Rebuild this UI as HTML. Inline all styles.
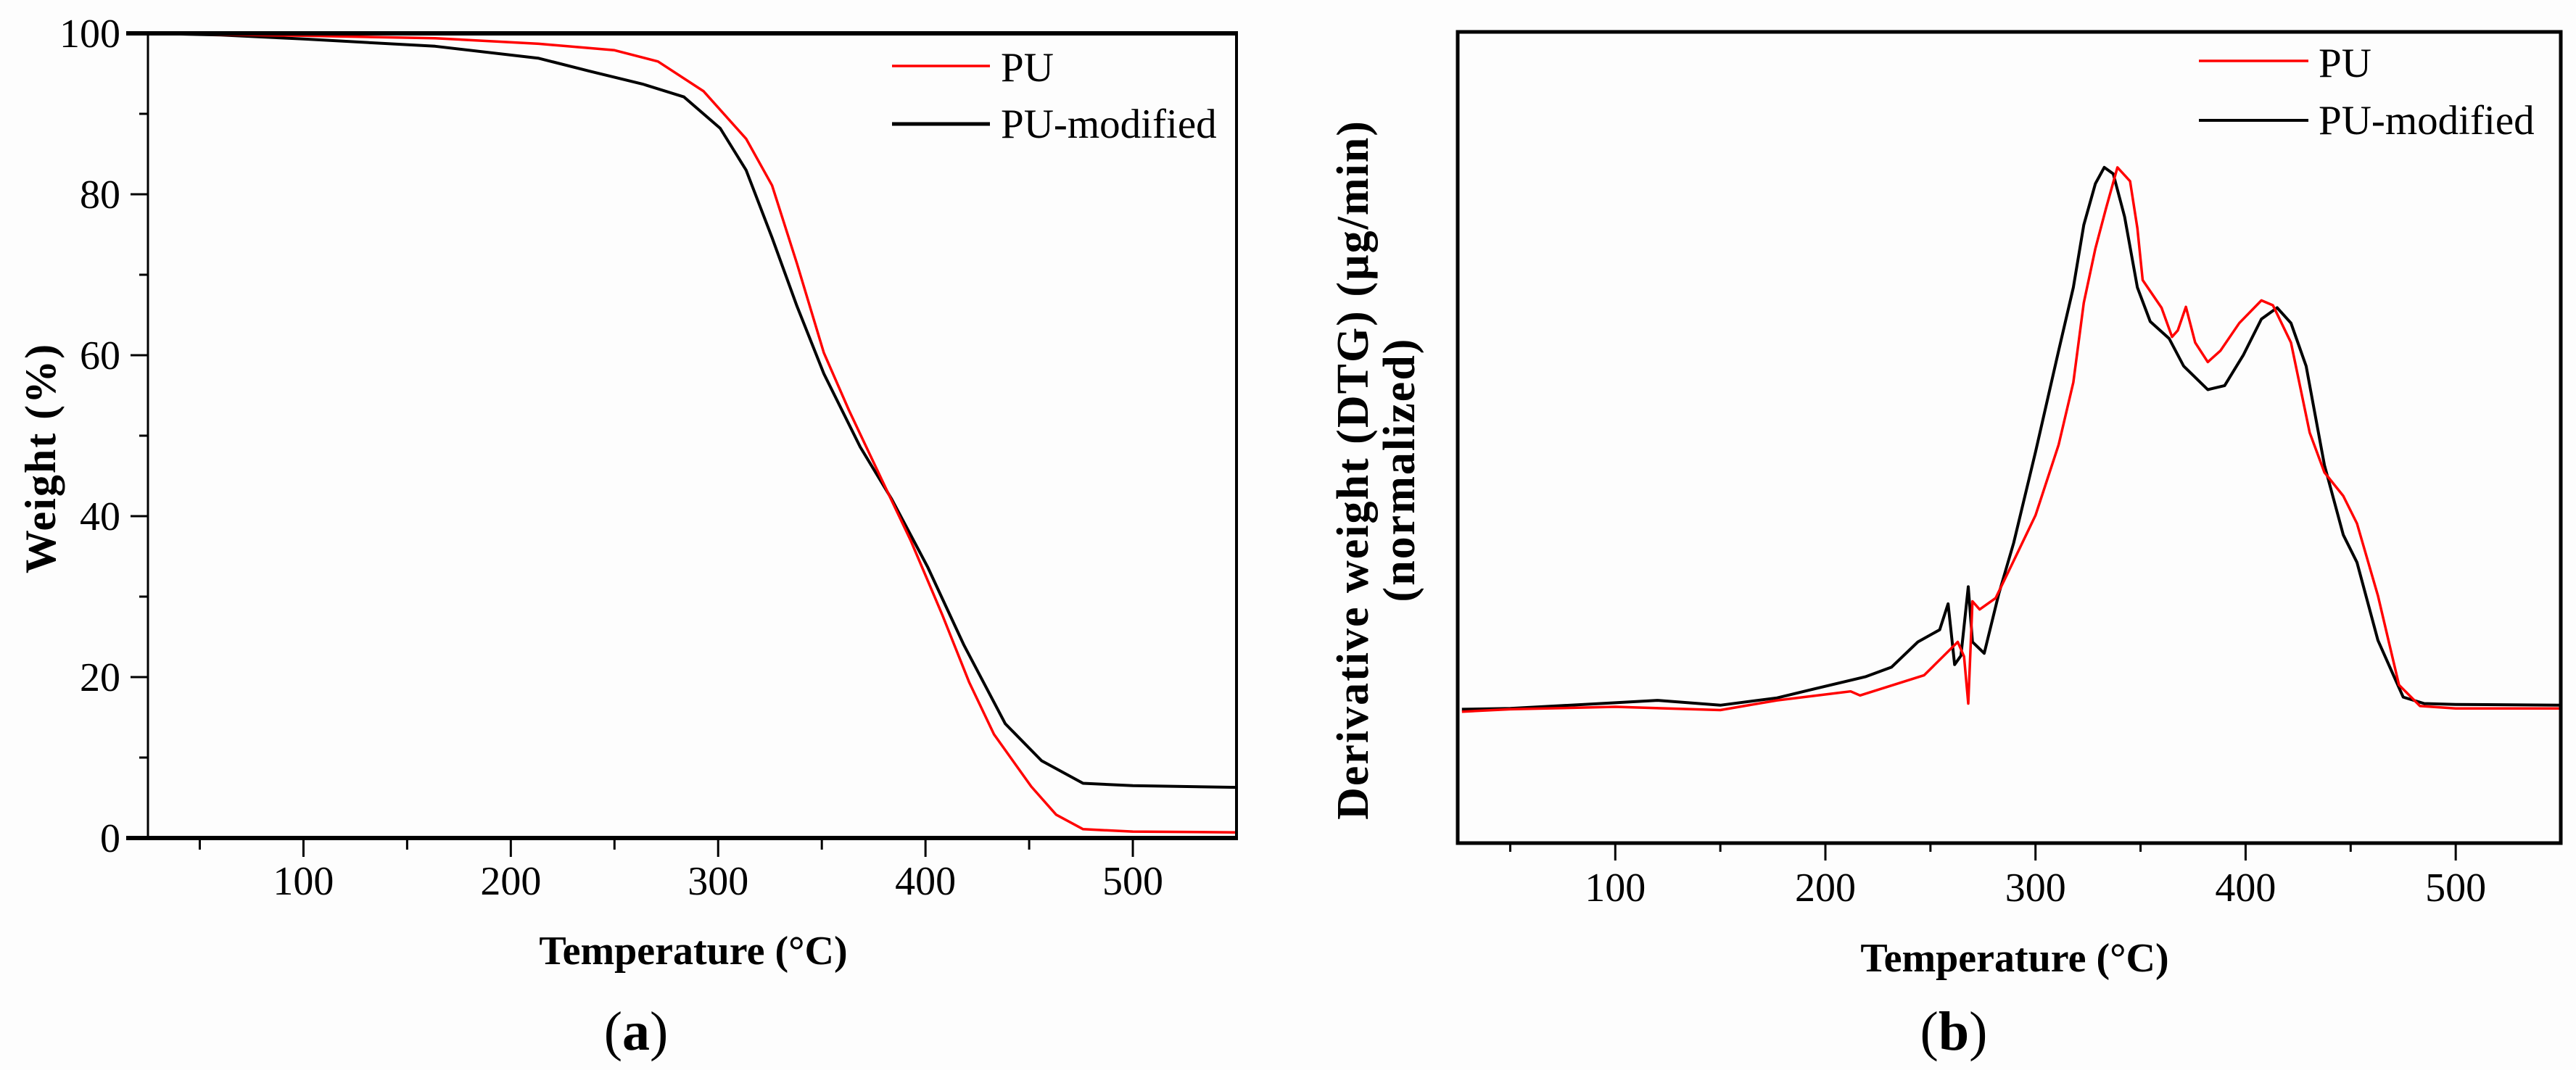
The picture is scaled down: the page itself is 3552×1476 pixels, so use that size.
<!DOCTYPE html>
<html><head><meta charset="utf-8"><style>
html,body{margin:0;padding:0;background:#fdfdfd;}
svg{display:block;font-family:"Liberation Serif",serif;}
</style></head><body>
<svg id="fig" width="3552" height="1476" viewBox="0 0 3552 1476" xmlns="http://www.w3.org/2000/svg">
<rect x="0" y="0" width="3552" height="1476" fill="#fdfdfd"/>
<g id="pa"></g>
<g id="pb"></g>
</svg>
<script>
// ---- Panel (a) TGA data ----
const tgaTempPU = [25,100,163.5,213.5,250,271,293,313.5,326,338,351,363,381,393,408,421,433,451,463,476,500,550];
const tgaWeightPU = [100,99.7,99.4,98.7,97.9,96.5,92.8,86.9,81.1,71.4,60.3,53.2,43.4,36.9,27.8,19.4,12.9,6.4,2.9,1.1,0.8,0.7];
const tgaTempMod = [25,60,100,163.5,213.5,238,263.5,283.5,301,313.5,326,338,351,368.5,383.5,401,418.5,438.5,456,476,500,550];
const tgaWeightMod = [100,99.8,99.3,98.4,96.9,95.3,93.7,92.1,88.2,83.0,74.6,66.1,57.7,48.6,42.2,33.7,24.0,14.2,9.6,6.8,6.5,6.3];
const aXTicks = [100,200,300,400,500];
const aXMinor = [50,150,250,350,450];
const aYTicks = [0,20,40,60,80,100];
const aYMinor = [10,30,50,70,90];
// ---- Panel (b) DTG data (normalized, arbitrary units) ----
const dtgTempPU = [27,50,100,150,177,212,216.5,247,263,266,268,270,273.4,281,290,300,311,318,323,328.5,333.5,339,345,348.5,351,360,365,367.7,371.6,376,382,388,397,407.5,413,421.6,430.5,437.5,446.5,453,463,473,483,500,550];
const dtgValPU = [16.2,16.5,16.8,16.4,17.6,18.7,18.2,20.7,24.8,23.0,17.2,29.8,28.8,30.2,35.0,40.4,49.1,56.8,66.6,73.3,78.2,83.3,81.6,75.8,69.4,66.0,62.4,63.2,66.1,61.7,59.3,60.7,64.1,66.9,66.3,61.7,50.6,45.7,42.8,39.4,30.5,19.5,16.9,16.6,16.6];
const dtgTempMod = [27,50,100,120,150,177,194.5,219,231.5,244,254.4,258.4,261.5,264.5,268,270,275.6,282.5,289.6,300,311,318,323,328.5,332.7,337,342.4,348.5,354.6,363.6,370.5,382,390,399,407.5,415,421.6,428.8,437.5,446.5,453,463,475,485,500,550];
const dtgValMod = [16.5,16.6,17.3,17.6,17.0,17.9,19.0,20.5,21.7,24.8,26.3,29.5,22.0,23.1,31.6,24.8,23.4,30.7,37.0,48.2,60.7,68.5,76.2,81.3,83.3,82.5,77.2,68.5,64.3,62.2,58.8,55.9,56.4,60.2,64.6,66.0,64.1,58.8,46.6,38.0,34.6,25.0,18.0,17.2,17.1,17.0];
const bXTicks = [100,200,300,400,500];
const bXMinor = [50,150,250,350,450];
const seriesNames = ["PU","PU-modified"];

const NS = "http://www.w3.org/2000/svg";
function mk(parent, tag, attrs, text){
  const e = document.createElementNS(NS, tag);
  for (const k in attrs) e.setAttribute(k, attrs[k]);
  if (text !== undefined) e.textContent = text;
  parent.appendChild(e);
  return e;
}
function scale(d0,d1,r0,r1){ return v => r0 + (v-d0)*(r1-r0)/(d1-d0); }
function pathFrom(xs, ys, sx, sy){
  return xs.map((t,i)=>(i?'L':'M')+sx(t).toFixed(1)+','+sy(ys[i]).toFixed(1)).join(' ');
}

// ===== Panel A =====
const pa = document.getElementById('pa');
const aL=204, aR=1705, aT=46, aB=1156;
const ax = scale(25,550,aL,aR), ay = scale(0,100,aB,aT);
let e;
e = mk(pa,'path',{d:pathFrom(tgaTempMod,tgaWeightMod,ax,ay),fill:'none',stroke:'#000','stroke-width':4,'stroke-linejoin':'round'});


e = mk(pa,'path',{d:pathFrom(tgaTempPU,tgaWeightPU,ax,ay),fill:'none',stroke:'#ff0000','stroke-width':3.5,'stroke-linejoin':'round'});


e = mk(pa,'line',{x1:aL-30,y1:aT,x2:aR+2,y2:aT,stroke:'#000','stroke-width':6});


e = mk(pa,'line',{x1:aL-30,y1:aB,x2:aR+2,y2:aB,stroke:'#000','stroke-width':6});


e = mk(pa,'line',{x1:aL,y1:aT,x2:aL,y2:aB,stroke:'#000','stroke-width':3});


e = mk(pa,'line',{x1:aR,y1:aT,x2:aR,y2:aB,stroke:'#000','stroke-width':4});


aXTicks.forEach(t=>{
  e = mk(pa,'line',{x1:ax(t),y1:aB,x2:ax(t),y2:aB+26,stroke:'#000','stroke-width':3});
  
  
  e = mk(pa,'text',{x:ax(t),y:aB+78,'font-size':56,'text-anchor':'middle'},String(t));
  
  
});
aXMinor.forEach(t=>{
  e = mk(pa,'line',{x1:ax(t),y1:aB,x2:ax(t),y2:aB+16,stroke:'#000','stroke-width':3});
  
  
});
aYTicks.forEach(v=>{
  e = mk(pa,'line',{x1:aL-24,y1:ay(v),x2:aL,y2:ay(v),stroke:'#000','stroke-width':3});
  
  
  e = mk(pa,'text',{x:aL-38,y:ay(v)+19,'font-size':56,'text-anchor':'end'},String(v));
  
  
});
aYMinor.forEach(v=>{
  e = mk(pa,'line',{x1:aL-12,y1:ay(v),x2:aL,y2:ay(v),stroke:'#000','stroke-width':3});
  
  
});
e = mk(pa,'text',{x:956,y:1330,'font-size':56,'font-weight':'bold','text-anchor':'middle'},'Temperature (°C)');


e = mk(pa,'text',{x:0,y:0,'font-size':60,'font-weight':'bold','text-anchor':'middle','letter-spacing':2,transform:'translate(76,632) rotate(-90)'},'Weight (%)');


e = mk(pa,'text',{x:877,y:1448,'font-size':76,'text-anchor':'middle'},'');


mk(e,'tspan',{},'(');mk(e,'tspan',{'font-weight':'bold'},'a');mk(e,'tspan',{},')');
const legA = mk(pa,'g',{});


[['#ff0000',91,112,3.5],['#000',171,190,5]].forEach((s,i)=>{
  e = mk(legA,'line',{x1:1230,y1:s[1],x2:1365,y2:s[1],stroke:s[0],'stroke-width':s[3]});
  
  
  e = mk(legA,'text',{x:1380,y:s[2],'font-size':57},seriesNames[i]);
  
  
});

// ===== Panel B =====
const pb = document.getElementById('pb');
const bL=2010, bR=3531, bT=44, bB=1163;
const bx = scale(25,550,bL,bR), by = scale(0,100,bB,bT);
e = mk(pb,'path',{d:pathFrom(dtgTempMod,dtgValMod,bx,by),fill:'none',stroke:'#000','stroke-width':4,'stroke-linejoin':'round'});


e = mk(pb,'path',{d:pathFrom(dtgTempPU,dtgValPU,bx,by),fill:'none',stroke:'#ff0000','stroke-width':3.5,'stroke-linejoin':'round'});


e = mk(pb,'rect',{x:bL,y:bT,width:bR-bL,height:bB-bT,fill:'none',stroke:'#000','stroke-width':5});


bXTicks.forEach(t=>{
  e = mk(pb,'line',{x1:bx(t),y1:bB,x2:bx(t),y2:bB+24,stroke:'#000','stroke-width':3});
  
  
  e = mk(pb,'text',{x:bx(t),y:bB+80,'font-size':56,'text-anchor':'middle'},String(t));
  
  
});
bXMinor.forEach(t=>{
  e = mk(pb,'line',{x1:bx(t),y1:bB,x2:bx(t),y2:bB+12,stroke:'#000','stroke-width':3});
  
  
});
e = mk(pb,'text',{x:2778,y:1340,'font-size':56,'font-weight':'bold','text-anchor':'middle'},'Temperature (°C)');


e = mk(pb,'text',{x:0,y:0,'font-size':62,'font-weight':'bold','text-anchor':'middle','letter-spacing':2,transform:'translate(1886,648) rotate(-90)'},'Derivative weight (DTG) (µg/min)');


e = mk(pb,'text',{x:0,y:0,'font-size':62,'font-weight':'bold','text-anchor':'middle','letter-spacing':2,transform:'translate(1950,648) rotate(-90)'},'(normalized)');


e = mk(pb,'text',{x:2694,y:1448,'font-size':76,'text-anchor':'middle'},'');


mk(e,'tspan',{},'(');mk(e,'tspan',{'font-weight':'bold'},'b');mk(e,'tspan',{},')');
const legB = mk(pb,'g',{});


[['#ff0000',84,106,3.5],['#000',166,185,4]].forEach((s,i)=>{
  e = mk(legB,'line',{x1:3032,y1:s[1],x2:3183,y2:s[1],stroke:s[0],'stroke-width':s[3]});
  
  
  e = mk(legB,'text',{x:3197,y:s[2],'font-size':57},seriesNames[i]);
  
  
});
</script>
</body></html>
